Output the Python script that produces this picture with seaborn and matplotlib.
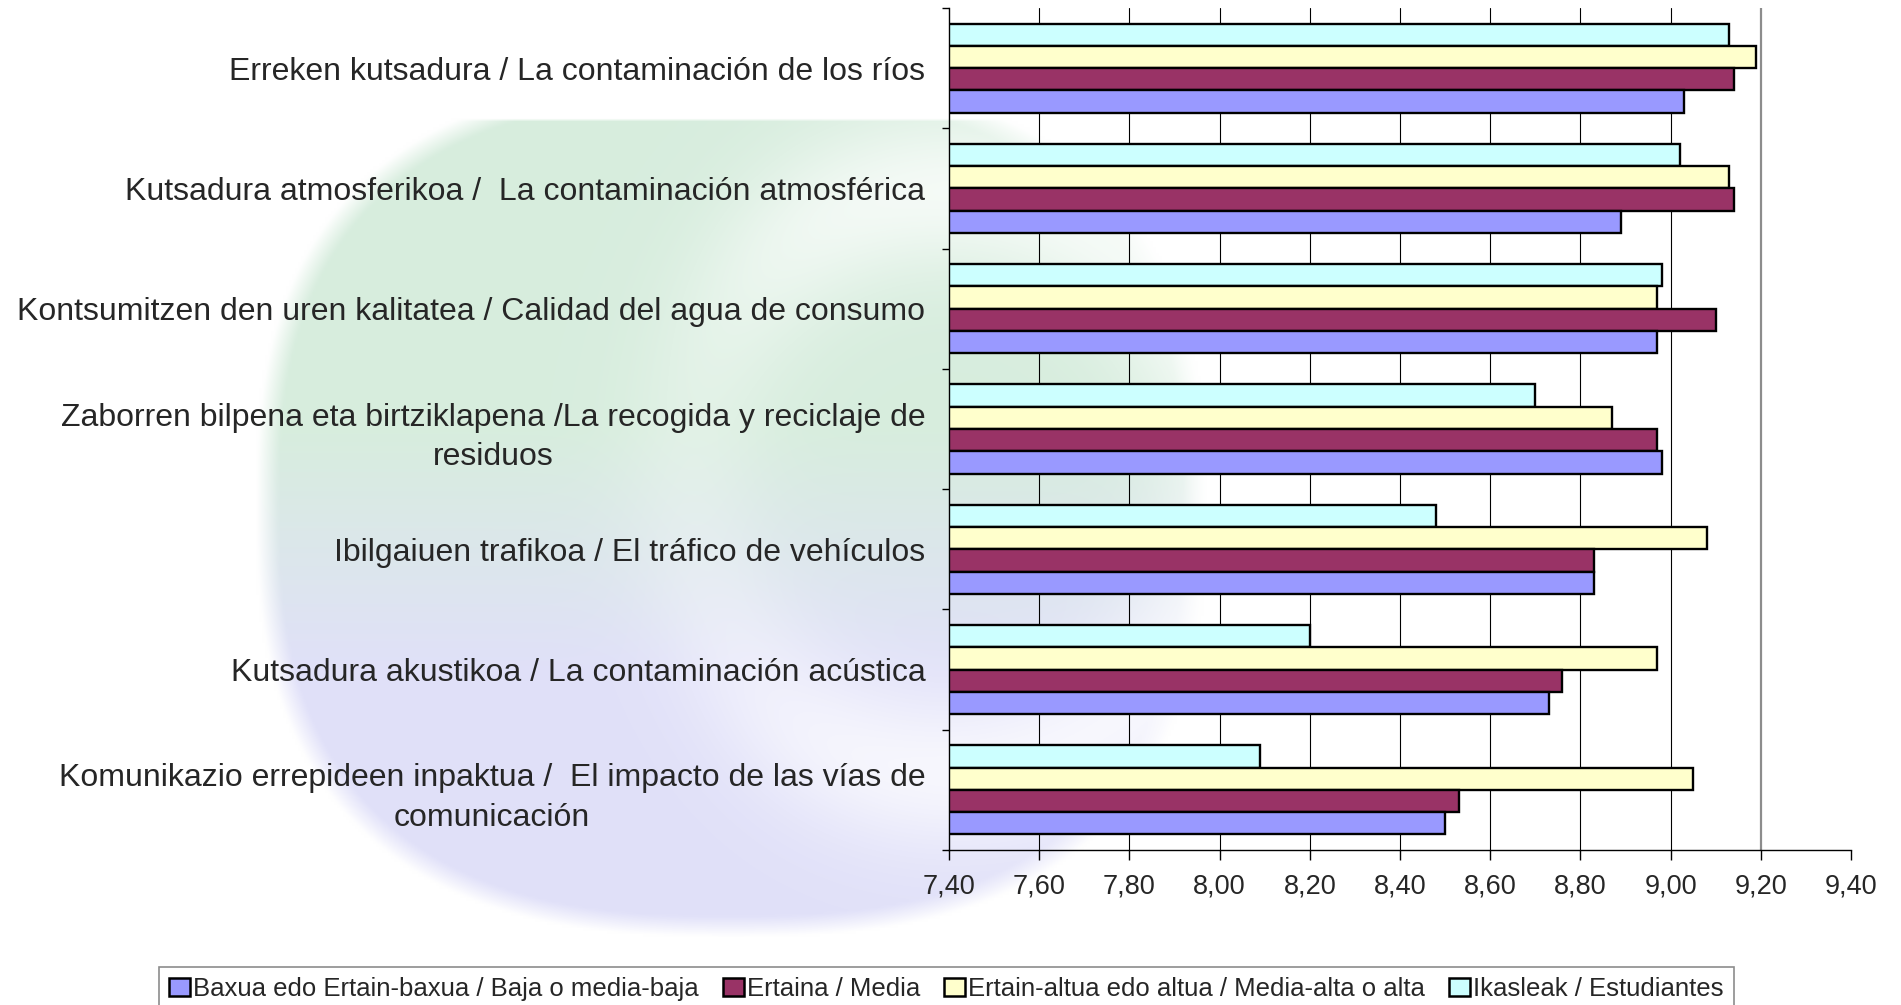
import numpy as np
import pandas as pd
import seaborn as sns
import matplotlib.pyplot as plt
from matplotlib.patches import Patch
from matplotlib.ticker import FixedLocator

# --- data -------------------------------------------------------------
categories = [
    "Erreken kutsadura / La contaminación de los ríos",
    "Kutsadura atmosferikoa /  La contaminación atmosférica",
    "Kontsumitzen den uren kalitatea / Calidad del agua de consumo",
    "Zaborren bilpena eta birtziklapena /La recogida y reciclaje de\nresiduos",
    "Ibilgaiuen trafikoa / El tráfico de vehículos",
    "Kutsadura akustikoa / La contaminación acústica",
    "Komunikazio errepideen inpaktua /  El impacto de las vías de\ncomunicación",
]
series = [
    "Baxua edo Ertain-baxua / Baja o media-baja",
    "Ertaina / Media",
    "Ertain-altua edo altua / Media-alta o alta",
    "Ikasleak / Estudiantes",
]
baxua = [9.03, 8.89, 8.97, 8.98, 8.83, 8.73, 8.50]
ertaina = [9.14, 9.14, 9.10, 8.97, 8.83, 8.76, 8.53]
ertain_altua = [9.19, 9.13, 8.97, 8.87, 9.08, 8.97, 9.05]
ikasleak = [9.13, 9.02, 8.98, 8.70, 8.48, 8.20, 8.09]
colors = ["#9999FF", "#993366", "#FFFFCC", "#CCFFFF"]
x_ticks = [7.40, 7.60, 7.80, 8.00, 8.20, 8.40, 8.60, 8.80, 9.00, 9.20, 9.40]

values = [baxua, ertaina, ertain_altua, ikasleak]
df = pd.DataFrame({
    "category": np.repeat(categories, len(series)),
    "series": series * len(categories),
    "value": [values[s][c] for c in range(len(categories)) for s in range(len(series))],
})

# --- figure -----------------------------------------------------------
sns.set_theme(style="white")
plt.rcParams["font.family"] = ["Liberation Sans", "DejaVu Sans"]

W, H = 1901, 1005
fig = plt.figure(figsize=(W / 100, H / 100), dpi=100, facecolor="white")

# soft decorative backdrop (pale green / lavender disc)
bg = fig.add_axes([0, 0, 1, 1], zorder=0)
bg.set_axis_off()
step = 3
yy, xx = np.mgrid[0:H:step, 0:W:step].astype(float)
cx, cy, rx, ry = 730.0, 505.0, 475.0, 430.0
se = (np.abs((xx - cx) / rx) ** 2.6 + np.abs((yy - cy) / ry) ** 2.6)
shape = np.clip((1.0 - se) / 0.12, 0, 1) * (yy >= 118)
t = np.clip((yy - 430) / 240.0, 0, 1)
green = np.array([0.845, 0.930, 0.870])
lav = np.array([0.880, 0.880, 0.975])
col = green[None, None, :] * (1 - t[..., None]) + lav[None, None, :] * t[..., None]
d2 = np.hypot(xx - 950, yy - 480)
side = 1 / (1 + np.exp(-(xx - 720) / 60.0))
light = np.exp(-((d2 - 290) / 80.0) ** 2) * side * 0.75
strength = shape * (1 - light)
img = 1 - (1 - col) * strength[..., None]
bg.imshow(img, extent=[0, W, H, 0], aspect="auto", interpolation="bilinear")
bg.set_xlim(0, W)
bg.set_ylim(H, 0)

ax = fig.add_axes([949 / W, 1 - 850 / H, (1851 - 949) / W, (850 - 8) / H], zorder=1)
ax.patch.set_alpha(0)

hue_order = series[::-1]
palette = dict(zip(series, colors))
sns.barplot(data=df, y="category", x="value", hue="series", hue_order=hue_order,
            order=categories, palette=palette, orient="h", width=0.74,
            edgecolor="black", linewidth=1.7, saturation=1, errorbar=None,
            legend=False, ax=ax)

ax.set_xlim(x_ticks[0], x_ticks[-1])
ax.set_ylim(len(categories) - 0.5, -0.5)
ax.set_xlabel("")
ax.set_ylabel("")

# vertical gridlines
for xv in x_ticks[1:-1]:
    if abs(xv - 9.20) < 1e-9:
        ax.axvline(xv, color="#8c8c8c", lw=1.6, zorder=0)
    else:
        ax.axvline(xv, color="black", lw=0.8, zorder=0)

for s in ["top", "right"]:
    ax.spines[s].set_visible(False)
for s in ["left", "bottom"]:
    ax.spines[s].set_color("black")
    ax.spines[s].set_linewidth(1.0)

ax.set_xticks(x_ticks)
ax.set_xticklabels([f"{v:.2f}".replace(".", ",") for v in x_ticks], fontsize=19.5)
ax.tick_params(axis="x", direction="out", length=7, width=1, color="black", pad=10,
               bottom=True)

ax.set_yticks(range(len(categories)))
ax.set_yticklabels(categories, fontsize=23)
ax.yaxis.set_minor_locator(FixedLocator(np.arange(-0.5, len(categories), 1.0)))
ax.tick_params(axis="y", which="major", length=0, pad=17)
ax.tick_params(axis="y", which="minor", direction="out", length=5, width=1,
               color="black", left=True)
for lbl in ax.get_yticklabels():
    lbl.set_multialignment("center")
    lbl.set_linespacing(1.4)

handles = [Patch(facecolor=c, edgecolor="black", linewidth=1.8) for c in colors]
leg = fig.legend(handles, series, loc="upper left",
                 bbox_to_anchor=(159 / W, 1 - 967 / H), ncol=4, fontsize=18.5,
                 frameon=True, fancybox=False, edgecolor="#707070",
                 handlelength=0.8, handleheight=0.7, handletextpad=0.12,
                 columnspacing=0.95, borderpad=0.4, borderaxespad=0)
leg.get_frame().set_linewidth(1.2)

fig.savefig("out.png", dpi=100, facecolor="white")
